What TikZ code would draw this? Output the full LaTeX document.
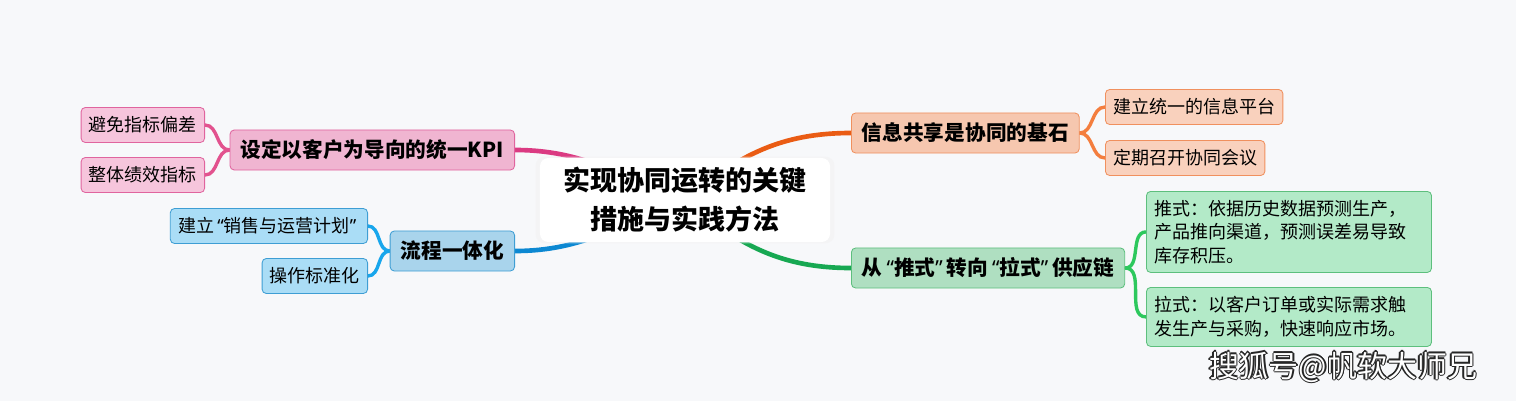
\documentclass[tikz,border=0pt]{standalone}
\usepackage{fontspec}
\setmainfont{Noto Sans CJK SC}
\newfontfamily\quotefont{Noto Sans}
\newcommand\opq{\makebox[0.55em][r]{\quotefont “}}
\newcommand\clq{\makebox[0.55em][l]{\quotefont ”}}
\usetikzlibrary{shadows}
\definecolor{canvas}{HTML}{F7F8FA}
\definecolor{kpiline}{HTML}{DB3A82}
\definecolor{kpifill}{HTML}{F0B5D1}
\definecolor{kpiedge}{HTML}{E0649E}
\definecolor{kpileaf}{HTML}{F6C5DC}
\definecolor{kpitwig}{HTML}{E2528E}
\definecolor{flowline}{HTML}{0C88D2}
\definecolor{flowfill}{HTML}{A9D4EC}
\definecolor{flowedge}{HTML}{3E9ED4}
\definecolor{flowleaf}{HTML}{AADDF6}
\definecolor{flowtwig}{HTML}{18A6EC}
\definecolor{infoline}{HTML}{EA5C14}
\definecolor{infofill}{HTML}{F6C7AF}
\definecolor{infoedge}{HTML}{F0905E}
\definecolor{infoleaf}{HTML}{F9D1BD}
\definecolor{infotwig}{HTML}{F47E3E}
\definecolor{pushline}{HTML}{17A852}
\definecolor{pushfill}{HTML}{AFDFC1}
\definecolor{pushedge}{HTML}{5DBF7D}
\definecolor{pushleaf}{HTML}{B3EAC8}
\definecolor{pushtwig}{HTML}{2DC85D}
\pgfdeclarelayer{canvaslayer}
\pgfdeclarelayer{linklayer}
\pgfsetlayers{canvaslayer,linklayer,main}

\begin{document}
\begin{tikzpicture}[x=0.025cm,y=-0.025cm,
    topic/.style={draw, rounded corners=3pt, line width=0.6pt, inner xsep=7.5pt,
      minimum height=1cm, font=\bfseries\fontsize{14.7}{18}\selectfont},
    leaf/.style={draw, rounded corners=3pt, line width=0.6pt, inner xsep=5.5pt,
      minimum height=0.875cm, font=\fontsize{12.8}{16.7}\selectfont},
    note/.style={leaf, text width=6.725cm, minimum width=7.125cm, inner xsep=0.2cm,
      align=left, anchor=north west},
    link/.style={line width=3.3pt, line cap=round},
    twig/.style={line width=2.4pt, line cap=round}]
            \begin{pgfonlayer}{canvaslayer}
            \fill[canvas] (0,0) rectangle (1516,401);
            \end{pgfonlayer}
            \useasboundingbox (0,0) rectangle (1516,401);
            % centre
            \node[fill=white, rounded corners=6pt, minimum width=7.25cm, minimum height=2.1cm,
              align=center, font=\bfseries\fontsize{19.2}{27.7}\selectfont,
              drop shadow={shadow xshift=0pt, shadow yshift=0pt, shadow scale=1.03, fill=black!5}]
              (root) at (685,200) {实现协同运转的关键\\措施与实践方法};
            % left side
            \node[topic, draw=kpiedge, fill=kpifill, anchor=east] (kpi) at (515,150) {设定以客户为导向的统一KPI};
            \node[leaf, draw=kpiedge, fill=kpileaf, anchor=east] (avoid) at (205,125) {避免指标偏差};
            \node[leaf, draw=kpiedge, fill=kpileaf, anchor=east] (whole) at (205,175) {整体绩效指标};
            \node[topic, draw=flowedge, fill=flowfill, anchor=east] (flow) at (515,251) {流程一体化};
            \node[leaf, draw=flowedge, fill=flowleaf, anchor=east] (sop) at (368,226) {建立\opq 销售与运营计划\clq};
            \node[leaf, draw=flowedge, fill=flowleaf, anchor=east] (std) at (368,276) {操作标准化};
            % right side
            \node[topic, draw=infoedge, fill=infofill, anchor=west] (info) at (851,133) {信息共享是协同的基石};
            \node[leaf, draw=infoedge, fill=infoleaf, anchor=west] (plat) at (1105,107) {建立统一的信息平台};
            \node[leaf, draw=infoedge, fill=infoleaf, anchor=west] (meet) at (1105,158) {定期召开协同会议};
            \node[topic, draw=pushedge, fill=pushfill, anchor=west] (push) at (851,268) {从\opq 推式\clq 转向\opq 拉式\clq 供应链};
            \node[note, draw=pushedge, fill=pushleaf, minimum height=2.025cm] (pushd) at (1146,191)
              {推式：依据历史数据预测生产，\\产品推向渠道，预测误差易导致\\库存积压。};
            \node[note, draw=pushedge, fill=pushleaf, minimum height=1.475cm] (pulld) at (1146,287)
              {拉式：以客户订单或实际需求触\\发生产与采购，快速响应市场。};
            % watermark
            \foreach \dx/\dy in {-1.2/0,1.2/0,0/-1.2,0/1.2,-0.9/-0.9,0.9/0.9,-0.9/0.9,0.9/-0.9}
              \node[font=\fontsize{21.3}{24}\selectfont, text=black!85] at (1343+\dx,367+\dy) {搜狐号@帆软大师兄};
            \node[font=\fontsize{21.3}{24}\selectfont, text=white] (sohu) at (1343,367) {搜狐号@帆软大师兄};

            \begin{pgfonlayer}{linklayer}
            \draw[link, kpiline] (kpi.east) to[out=0,in=160] (root.center);
            \draw[link, flowline] (flow.east) to[out=0,in=200] (root.center);
            \draw[link, infoline] (info.west) to[out=180,in=40] (root.center);
            \draw[link, pushline] (push.west) to[out=180,in=-40] (root.center);
            \draw[twig, kpitwig] (kpi.west) to[out=180,in=0] (avoid.east);
            \draw[twig, kpitwig] (kpi.west) to[out=180,in=0] (whole.east);
            \draw[twig, flowtwig] (flow.west) to[out=180,in=0] (sop.east);
            \draw[twig, flowtwig] (flow.west) to[out=180,in=0] (std.east);
            \draw[twig, infotwig] (info.east) to[out=0,in=180] (plat.west);
            \draw[twig, infotwig] (info.east) to[out=0,in=180] (meet.west);
            \draw[twig, pushtwig] (push.east) to[out=0,in=180] (pushd.west);
            \draw[twig, pushtwig] (push.east) to[out=0,in=180] (pulld.west);
            \end{pgfonlayer}
        \end{tikzpicture}
\end{document}
